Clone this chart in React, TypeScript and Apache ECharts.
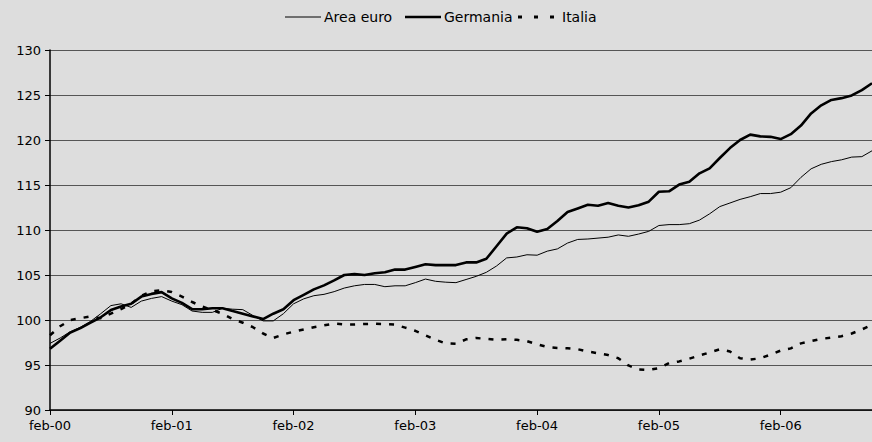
import React, { useEffect, useRef } from "react";
import * as echarts from "echarts";

const monthNames = ["feb", "mar", "apr", "mag", "giu", "lug", "ago", "set", "ott", "nov", "dic", "gen"];
// 82 monthly categories, feb-00 .. nov-06
const categories: string[] = [];
for (let i = 0; i < 82; i++) {
  const m = monthNames[i % 12];
  const y = m === "gen" ? Math.floor((i + 1) / 12) : Math.floor(i / 12);
  categories.push(`${m}-0${y}`);
}

const seriesNames = ["Area euro", "Germania", "Italia"];

const areaEuro = [
  97.4, 98.0, 98.7, 99.2, 99.85, 100.7, 101.6, 101.8, 101.4, 102.1, 102.4, 102.6,
  102.1, 101.7, 101.0, 100.85, 100.85, 101.3, 101.2, 101.15, 100.5, 99.9, 99.9, 100.7,
  101.8, 102.35, 102.7, 102.85, 103.15, 103.55, 103.8, 103.95, 103.95, 103.7, 103.8, 103.8,
  104.15, 104.55, 104.3, 104.2, 104.15, 104.5, 104.85, 105.3, 106.0, 106.9, 107.0, 107.25,
  107.2, 107.65, 107.9, 108.55, 108.95, 109.0, 109.1, 109.2, 109.45, 109.3, 109.55, 109.85,
  110.5, 110.6, 110.6, 110.7, 111.1, 111.8, 112.6, 113.0, 113.4, 113.7, 114.05, 114.05,
  114.2, 114.7, 115.85, 116.8, 117.3, 117.6, 117.8, 118.1, 118.15, 118.8,
];

const germania = [
  96.8, 97.7, 98.6, 99.1, 99.7, 100.3, 101.1, 101.5, 101.8, 102.6, 102.9, 103.1,
  102.4, 101.9, 101.2, 101.2, 101.3, 101.3, 101.0, 100.7, 100.4, 100.1, 100.7, 101.2,
  102.2, 102.8, 103.4, 103.85, 104.4, 105.0, 105.1, 105.0, 105.2, 105.3, 105.6, 105.6,
  105.9, 106.2, 106.1, 106.1, 106.1, 106.4, 106.4, 106.8, 108.2, 109.6, 110.3, 110.2,
  109.8, 110.1, 111.0, 112.0, 112.4, 112.8, 112.7, 113.0, 112.7, 112.5, 112.75, 113.15,
  114.25, 114.3, 115.05, 115.35, 116.3, 116.85, 118.0, 119.1, 120.0, 120.6, 120.4, 120.35,
  120.1, 120.65, 121.6, 122.95, 123.85, 124.45, 124.65, 124.95, 125.55, 126.3,
];

const italia = [
  98.3, 99.3, 100.0, 100.2, 100.4, 100.2, 100.7, 101.2, 101.8, 102.7, 103.2, 103.3,
  103.1, 102.6, 102.0, 101.5, 101.1, 100.7, 100.1, 99.7, 99.2, 98.5, 98.0, 98.4,
  98.7, 98.95, 99.2, 99.4, 99.6, 99.5, 99.5, 99.55, 99.6, 99.55, 99.5, 99.15,
  98.8, 98.3, 97.8, 97.4, 97.35, 97.85, 98.0, 97.9, 97.8, 97.85, 97.8, 97.65,
  97.3, 97.0, 96.9, 96.85, 96.75, 96.5, 96.3, 96.1, 95.75, 94.95, 94.5, 94.45,
  94.65, 95.2, 95.4, 95.7, 96.05, 96.4, 96.75, 96.5, 95.75, 95.6, 95.75, 96.15,
  96.6, 96.85, 97.4, 97.65, 97.9, 98.05, 98.2, 98.5, 98.95, 99.45,
];

const font = "'DejaVu Sans', Verdana, sans-serif";
const lineWidths = [1, 2.6, 2.5];
const lineDashes: (number[] | null)[] = [null, null, [5, 8]];

export default function App() {
  const ref = useRef<HTMLDivElement>(null);
  useEffect(() => {
    if (!ref.current) return;
    const chart = echarts.init(ref.current, null, { renderer: "svg" });

    // legend drawn as graphic (line icons without symbols)
    const legendY = 17;
    const legendX = [285, 405, 518];
    const legendGraphics: any[] = [];
    seriesNames.forEach((name, k) => {
      const x0 = legendX[k];
      legendGraphics.push({
        type: "line",
        shape: { x1: x0, y1: legendY, x2: x0 + 36, y2: legendY },
        style: {
          stroke: "#000",
          lineWidth: k === 0 ? 1 : k === 1 ? 2.6 : 3,
          lineDash: k === 2 ? [4, 12] : null,
        },
      });
      legendGraphics.push({
        type: "text",
        x: x0 + (k === 2 ? 44 : 39),
        y: legendY,
        style: {
          text: name,
          fill: "#000",
          font: `14px ${font}`,
          verticalAlign: "middle",
          align: "left",
        },
      });
    });

    chart.setOption({
      animation: false,
      backgroundColor: "#dddddd",
      textStyle: { fontFamily: font, color: "#000" },
      graphic: legendGraphics,
      grid: { left: 50, right: 0, top: 50, bottom: 32, containLabel: false },
      xAxis: {
        type: "category",
        data: categories,
        boundaryGap: false,
        axisLine: { lineStyle: { color: "#000", width: 1.5 } },
        axisTick: {
          show: true,
          interval: (i: number) => i % 12 === 0,
          length: 5,
          lineStyle: { color: "#000" },
        },
        axisLabel: {
          interval: (i: number) => i % 12 === 0,
          color: "#000",
          fontSize: 13,
          fontFamily: font,
          margin: 9,
        },
        splitLine: { show: false },
      },
      yAxis: {
        type: "value",
        min: 90,
        max: 130,
        interval: 5,
        axisLine: { show: true, lineStyle: { color: "#000", width: 1.5 } },
        axisTick: { show: true, length: 5, lineStyle: { color: "#000" } },
        axisLabel: { color: "#000", fontSize: 13, fontFamily: font, margin: 9 },
        splitLine: { show: true, lineStyle: { color: "#555", width: 1 } },
      },
      series: [areaEuro, germania, italia].map((d, k) => ({
        name: seriesNames[k],
        type: "line",
        data: d,
        symbol: "none",
        color: "#000",
        lineStyle: {
          color: "#000",
          width: lineWidths[k],
          type: lineDashes[k] ?? "solid",
        },
      })),
    });
    return () => chart.dispose();
  }, []);
  return (
    <div
      ref={ref}
      style={{ position: "absolute", left: 0, top: 0, width: 872, height: 442 }}
    />
  );
}
